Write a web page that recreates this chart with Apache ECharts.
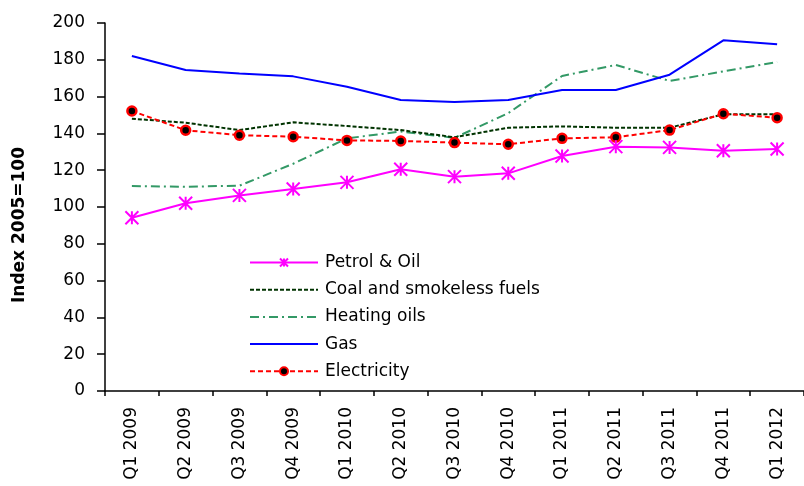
<!DOCTYPE html>
<html>
<head>
<meta charset="utf-8">
<script src="https://cdn.jsdelivr.net/npm/echarts@6/dist/echarts.min.js"></script>
<style>
html,body{margin:0;padding:0;background:#fff;}
#chart{width:804px;height:486px;}
</style>
</head>
<body>
<div id="chart"></div>
<script>
const categories = ['Q1 2009','Q2 2009','Q3 2009','Q4 2009','Q1 2010','Q2 2010','Q3 2010','Q4 2010','Q1 2011','Q2 2011','Q3 2011','Q4 2011','Q1 2012'];
const petrolOil = [94.2, 102.0, 106.3, 109.8, 113.4, 120.5, 116.5, 118.3, 127.7, 132.8, 132.4, 130.6, 131.5];
const coalSmokeless = [148.0, 145.8, 141.8, 146.0, 144.0, 141.8, 137.9, 143.1, 143.8, 143.1, 143.1, 150.4, 150.4];
const heatingOils = [111.4, 111.0, 111.6, 123.5, 137.3, 141.0, 137.6, 151.0, 171.2, 177.2, 168.5, 173.7, 178.8];
const gas = [182.1, 174.5, 172.5, 171.0, 165.4, 158.2, 157.1, 158.2, 163.6, 163.6, 171.9, 190.6, 188.4];
const electricity = [152.2, 141.7, 139.0, 138.2, 136.2, 135.9, 135.0, 134.1, 137.3, 137.9, 141.8, 150.7, 148.5];
const yTicks = {min: 0, max: 200, interval: 20};
const yAxisName = 'Index 2005=100';

const FONT = 'DejaVu Sans';
const chart = echarts.init(document.getElementById('chart'), null, {renderer: 'canvas'});
const starPath = 'path://M0 0 L12 12 M12 0 L0 12 M6 0 L6 12';
const hidden = {opacity: 0};

chart.setOption({
  animation: false,
  backgroundColor: '#ffffff',
  textStyle: {fontFamily: FONT},
  grid: {left: 105, right: 0, top: 23, bottom: 95, containLabel: false},
  legend: {
    orient: 'vertical',
    left: 249,
    top: 254,
    padding: 0,
    itemWidth: 68,
    itemHeight: 10,
    itemGap: 10.2,
    textStyle: {fontFamily: FONT, fontSize: 17, color: '#000', padding: [0, 0, 0, 2]},
    data: [
      {name: 'Petrol & Oil'},
      {name: 'Coal and smokeless fuels', itemStyle: hidden},
      {name: 'Heating oils', itemStyle: hidden},
      {name: 'Gas', itemStyle: hidden},
      {name: 'Electricity'}
    ]
  },
  xAxis: {
    type: 'category',
    data: categories,
    boundaryGap: true,
    axisLine: {show: true, lineStyle: {color: '#000', width: 1.5}},
    axisTick: {show: true, inside: false, length: 5, lineStyle: {color: '#000', width: 1.5}},
    axisLabel: {rotate: 90, margin: 16, fontFamily: FONT, fontSize: 17, color: '#000', interval: 0},
    splitLine: {show: false}
  },
  yAxis: {
    type: 'value',
    min: yTicks.min,
    max: yTicks.max,
    interval: yTicks.interval,
    name: yAxisName,
    nameLocation: 'middle',
    nameRotate: 90,
    nameGap: 77,
    nameTextStyle: {fontFamily: FONT, fontSize: 17, fontWeight: 'bold', color: '#000', padding: [0, 0, 0, -36]},
    axisLine: {show: true, lineStyle: {color: '#000', width: 1.5}},
    axisTick: {show: true, inside: false, length: 8, lineStyle: {color: '#000', width: 1.5}},
    axisLabel: {margin: 20, fontFamily: FONT, fontSize: 17, color: '#000'},
    splitLine: {show: false}
  },
  series: [
    {
      name: 'Petrol & Oil', type: 'line', data: petrolOil,
      symbol: starPath, symbolSize: 13,
      itemStyle: {color: 'rgba(0,0,0,0)', borderColor: '#ff00ff', borderWidth: 2},
      lineStyle: {color: '#ff00ff', width: 2}, z: 5
    },
    {
      name: 'Coal and smokeless fuels', type: 'line', data: coalSmokeless,
      symbol: 'none',
      itemStyle: {color: '#003300'},
      lineStyle: {color: '#003300', width: 2, type: [4, 2]}, z: 3
    },
    {
      name: 'Heating oils', type: 'line', data: heatingOils,
      symbol: 'none',
      itemStyle: {color: '#339966'},
      lineStyle: {color: '#339966', width: 2, type: [9, 4, 2, 4]}, z: 2
    },
    {
      name: 'Gas', type: 'line', data: gas,
      symbol: 'none',
      itemStyle: {color: '#0000ff'},
      lineStyle: {color: '#0000ff', width: 2}, z: 2
    },
    {
      name: 'Electricity', type: 'line', data: electricity,
      symbol: 'circle', symbolSize: 9,
      itemStyle: {color: '#000000', borderColor: '#ff0000', borderWidth: 2.5},
      lineStyle: {color: '#ff0000', width: 2, type: [5, 3]}, z: 4
    }
  ]
});
</script>
</body>
</html>
